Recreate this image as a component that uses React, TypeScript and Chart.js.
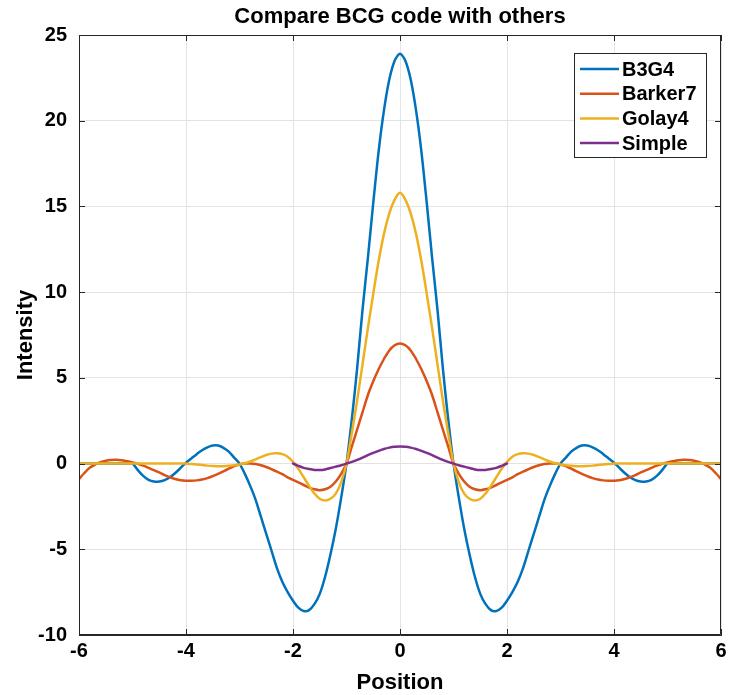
import React, { useEffect, useRef } from "react";
import { Chart, registerables } from "chart.js";

Chart.register(...registerables);

// x positions for the three full-range series
const positions = [
  -6.0, -5.9, -5.8, -5.7, -5.6, -5.5, -5.4, -5.3, -5.2, -5.1,
  -5.0, -4.9, -4.8, -4.7, -4.6, -4.5, -4.4, -4.3, -4.2, -4.1,
  -4.0, -3.9, -3.8, -3.7, -3.6, -3.5, -3.4, -3.3, -3.2, -3.1,
  -3.0, -2.9, -2.8, -2.7, -2.6, -2.5, -2.4, -2.3, -2.2, -2.1,
  -2.0, -1.9, -1.8, -1.7, -1.6, -1.5, -1.4, -1.3, -1.2, -1.1,
  -1.0, -0.9, -0.8, -0.7, -0.6, -0.5, -0.4, -0.3, -0.2, -0.1,
  0.0,
  0.1, 0.2, 0.3, 0.4, 0.5, 0.6, 0.7, 0.8, 0.9, 1.0,
  1.1, 1.2, 1.3, 1.4, 1.5, 1.6, 1.7, 1.8, 1.9, 2.0,
  2.1, 2.2, 2.3, 2.4, 2.5, 2.6, 2.7, 2.8, 2.9, 3.0,
  3.1, 3.2, 3.3, 3.4, 3.5, 3.6, 3.7, 3.8, 3.9, 4.0,
  4.1, 4.2, 4.3, 4.4, 4.5, 4.6, 4.7, 4.8, 4.9, 5.0,
  5.1, 5.2, 5.3, 5.4, 5.5, 5.6, 5.7, 5.8, 5.9, 6.0,
];

// x positions for the "Simple" series (defined only on [-2, 2])
const simplePositions = [
  -2.0, -1.9, -1.8, -1.7, -1.6, -1.5, -1.4, -1.3, -1.2, -1.1,
  -1.0, -0.9, -0.8, -0.7, -0.6, -0.5, -0.4, -0.3, -0.2, -0.1,
  0.0,
  0.1, 0.2, 0.3, 0.4, 0.5, 0.6, 0.7, 0.8, 0.9, 1.0,
  1.1, 1.2, 1.3, 1.4, 1.5, 1.6, 1.7, 1.8, 1.9, 2.0,
];

const b3g4 = [
  0, 0, 0, 0, 0, 0, 0, 0, 0, 0,
  0.0, -0.38, -0.72, -0.95, -1.05, -1.05, -0.97, -0.8, -0.55, -0.25,
  0.05, 0.3, 0.55, 0.78, 0.95, 1.05, 1.05, 0.92, 0.7, 0.35,
  0.0, -0.6, -1.3, -2.1, -3.1, -4.1, -5.1, -6.1, -6.9, -7.5,
  -8.0, -8.4, -8.6, -8.55, -8.2, -7.6, -6.6, -5.3, -3.8, -2.0,
  0.0, 2.6, 5.6, 9.0, 12.0, 15.2, 18.2, 20.6, 22.4, 23.5,
  23.9,
  23.5, 22.4, 20.6, 18.2, 15.2, 12.0, 9.0, 5.6, 2.6, 0.0,
  -2.0, -3.8, -5.3, -6.6, -7.6, -8.2, -8.55, -8.6, -8.4, -8.0,
  -7.5, -6.9, -6.1, -5.1, -4.1, -3.1, -2.1, -1.3, -0.6, 0.0,
  0.35, 0.7, 0.92, 1.05, 1.05, 0.95, 0.78, 0.55, 0.3, 0.05,
  -0.25, -0.55, -0.8, -0.97, -1.05, -1.05, -0.95, -0.72, -0.38, 0.0,
  0, 0, 0, 0, 0, 0, 0, 0, 0, 0,
];

const barker7 = [
  -0.9, -0.55, -0.25, -0.06, 0.08, 0.17, 0.21, 0.22, 0.19, 0.14,
  0.07, -0.02, -0.12, -0.25, -0.38, -0.52, -0.67, -0.8, -0.9, -0.97,
  -1.0, -1.0, -0.98, -0.93, -0.85, -0.73, -0.6, -0.45, -0.3, -0.15,
  -0.05, 0.0, 0.0, -0.03, -0.1, -0.2, -0.33, -0.47, -0.62, -0.8,
  -0.95, -1.1, -1.25, -1.4, -1.5, -1.55, -1.5, -1.35, -1.05, -0.6,
  0.0, 1.0, 2.0, 3.0, 4.0, 4.8, 5.5, 6.1, 6.6, 6.9,
  7.0,
  6.9, 6.6, 6.1, 5.5, 4.8, 4.0, 3.0, 2.0, 1.0, 0.0,
  -0.6, -1.05, -1.35, -1.5, -1.55, -1.5, -1.4, -1.25, -1.1, -0.95,
  -0.8, -0.62, -0.47, -0.33, -0.2, -0.1, -0.03, 0.0, 0.0, -0.05,
  -0.15, -0.3, -0.45, -0.6, -0.73, -0.85, -0.93, -0.98, -1.0, -1.0,
  -0.97, -0.9, -0.8, -0.67, -0.52, -0.38, -0.25, -0.12, -0.02, 0.07,
  0.14, 0.19, 0.22, 0.21, 0.17, 0.08, -0.06, -0.25, -0.55, -0.9,
];

const golay4 = [
  0, 0, 0, 0, 0, 0, 0, 0, 0, 0,
  0, 0, 0, 0, 0, 0, 0, 0, 0, 0,
  0.0, -0.03, -0.06, -0.09, -0.12, -0.14, -0.15, -0.15, -0.13, -0.1,
  -0.05, 0.02, 0.12, 0.25, 0.38, 0.5, 0.58, 0.6, 0.55, 0.4,
  0.1, -0.3, -0.8, -1.3, -1.75, -2.05, -2.15, -2.05, -1.75, -1.1,
  0.0, 1.8, 3.7, 5.8, 7.9, 9.9, 11.8, 13.4, 14.6, 15.4,
  15.8,
  15.4, 14.6, 13.4, 11.8, 9.9, 7.9, 5.8, 3.7, 1.8, 0.0,
  -1.1, -1.75, -2.05, -2.15, -2.05, -1.75, -1.3, -0.8, -0.3, 0.1,
  0.4, 0.55, 0.6, 0.58, 0.5, 0.38, 0.25, 0.12, 0.02, -0.05,
  -0.1, -0.13, -0.15, -0.15, -0.14, -0.12, -0.09, -0.06, -0.03, 0.0,
  0, 0, 0, 0, 0, 0, 0, 0, 0, 0,
  0, 0, 0, 0, 0, 0, 0, 0, 0, 0,
];

const simple = [
  0.0, -0.13, -0.25, -0.32, -0.37, -0.38, -0.34, -0.26, -0.18, -0.1,
  0.0, 0.1, 0.22, 0.35, 0.49, 0.62, 0.74, 0.85, 0.93, 0.98,
  1.0,
  0.98, 0.93, 0.85, 0.74, 0.62, 0.49, 0.35, 0.22, 0.1, 0.0,
  -0.1, -0.18, -0.26, -0.34, -0.38, -0.37, -0.32, -0.25, -0.13, 0.0,
];

const xTicks = [-6, -4, -2, 0, 2, 4, 6];
const yTicks = [-10, -5, 0, 5, 10, 15, 20, 25];

const seriesNames = ["B3G4", "Barker7", "Golay4", "Simple"];
const seriesColors = ["#0072BD", "#D95319", "#EDB120", "#7E2F8E"];

const titleText = "Compare BCG code with others";
const xLabel = "Position";
const yLabel = "Intensity";

const FONT = "'Liberation Sans', Arial, Helvetica, sans-serif";
const AXIS_COLOR = "#262626";

const framePlugin = {
  id: "matlabFrame",
  afterDatasetsDraw(chart: any) {
    const { ctx, chartArea } = chart;
    const { left, right, top, bottom } = chartArea;
    const xs = chart.scales.x;
    const ys = chart.scales.y;
    ctx.save();
    ctx.strokeStyle = AXIS_COLOR;
    ctx.lineWidth = 1;
    ctx.beginPath();
    ctx.rect(Math.round(left) + 0.5, Math.round(top) + 0.5, Math.round(right - left) - 1, Math.round(bottom - top) - 1);
    ctx.stroke();
    const tl = 6;
    ctx.beginPath();
    xTicks.forEach((v) => {
      const px = Math.round(xs.getPixelForValue(v)) + 0.5;
      ctx.moveTo(px, bottom);
      ctx.lineTo(px, bottom - tl);
      ctx.moveTo(px, top);
      ctx.lineTo(px, top + tl);
    });
    yTicks.forEach((v) => {
      const py = Math.round(ys.getPixelForValue(v)) + 0.5;
      ctx.moveTo(left, py);
      ctx.lineTo(left + tl, py);
      ctx.moveTo(right, py);
      ctx.lineTo(right - tl, py);
    });
    ctx.stroke();

    // legend box
    const bx = 574, by = 53, bw = 132, bh = 104;
    ctx.fillStyle = "#ffffff";
    ctx.fillRect(bx, by, bw, bh);
    ctx.strokeStyle = AXIS_COLOR;
    ctx.lineWidth = 1;
    ctx.strokeRect(bx + 0.5, by + 0.5, bw, bh);
    ctx.font = `bold 20px ${FONT}`;
    ctx.textBaseline = "middle";
    ctx.textAlign = "left";
    seriesNames.forEach((name, i) => {
      const yy = 69 + i * 24.7;
      ctx.strokeStyle = seriesColors[i];
      ctx.lineWidth = 2.5;
      ctx.beginPath();
      ctx.moveTo(580, yy);
      ctx.lineTo(619, yy);
      ctx.stroke();
      ctx.fillStyle = "#000000";
      ctx.fillText(name, 622, yy + 1);
    });
    ctx.restore();
  },
};

export default function App() {
  const canvasRef = useRef<HTMLCanvasElement | null>(null);

  useEffect(() => {
    const canvas = canvasRef.current;
    if (!canvas) return;
    const mk = (xsArr: number[], ysArr: number[]) => xsArr.map((x, i) => ({ x, y: ysArr[i] }));
    const seriesData = [
      mk(positions, b3g4),
      mk(positions, barker7),
      mk(positions, golay4),
      mk(simplePositions, simple),
    ];
    const chart = new Chart(canvas, {
      type: "line",
      data: {
        datasets: seriesNames.map((name, i) => ({
          label: name,
          data: seriesData[i],
          borderColor: seriesColors[i],
          backgroundColor: seriesColors[i],
          borderWidth: 2.5,
          pointRadius: 0,
          tension: 0.3,
          fill: false,
          order: seriesNames.length - i,
          borderJoinStyle: "round" as const,
          borderCapStyle: "round" as const,
        })),
      },
      options: {
        responsive: false,
        animation: false,
        devicePixelRatio: 1,
        layout: { padding: { left: 0, right: 10, top: 0, bottom: 0 } },
        plugins: {
          legend: { display: false },
          tooltip: { enabled: false },
          title: {
            display: true,
            text: titleText,
            fullSize: false,
            color: "#000000",
            font: { family: FONT, size: 22, weight: "bold", lineHeight: 1 },
            padding: { top: 6, bottom: 7 },
          },
        },
        scales: {
          x: {
            type: "linear",
            min: -6,
            max: 6,
            afterBuildTicks: (scale: any) => {
              scale.ticks = xTicks.map((v) => ({ value: v }));
            },
            afterFit: (scale: any) => {
              scale.height = 60;
              scale.paddingLeft = 0;
              scale.paddingRight = 0;
            },
            ticks: {
              color: "#000000",
              font: { family: FONT, size: 20, weight: "bold" },
              padding: 4,
              maxRotation: 0,
              autoSkip: false,
            },
            grid: { color: "#e3e3e3", drawTicks: false, lineWidth: 1 },
            border: { display: true, color: AXIS_COLOR },
            title: {
              display: true,
              text: xLabel,
              color: "#000000",
              font: { family: FONT, size: 22, weight: "bold", lineHeight: 1 },
              padding: { top: 0, bottom: 1 },
            },
          },
          y: {
            type: "linear",
            min: -10,
            max: 25,
            afterBuildTicks: (scale: any) => {
              scale.ticks = yTicks.map((v) => ({ value: v }));
            },
            afterFit: (scale: any) => {
              scale.width = 79;
              scale.paddingTop = 0;
              scale.paddingBottom = 0;
            },
            ticks: {
              color: "#000000",
              font: { family: FONT, size: 20, weight: "bold" },
              padding: 12,
              autoSkip: false,
            },
            grid: { color: "#e3e3e3", drawTicks: false, lineWidth: 1 },
            border: { display: true, color: AXIS_COLOR },
            title: {
              display: true,
              text: yLabel,
              color: "#000000",
              font: { family: FONT, size: 22, weight: "bold", lineHeight: 1 },
              padding: { top: 15, bottom: 0 },
            },
          },
        },
      },
      plugins: [framePlugin],
    });
    return () => chart.destroy();
  }, []);

  return (
    <div style={{ position: "fixed", left: 0, top: 0, width: 731, height: 695, background: "#ffffff" }}>
      <canvas ref={canvasRef} width={731} height={695} style={{ display: "block", width: 731, height: 695 }} />
    </div>
  );
}
